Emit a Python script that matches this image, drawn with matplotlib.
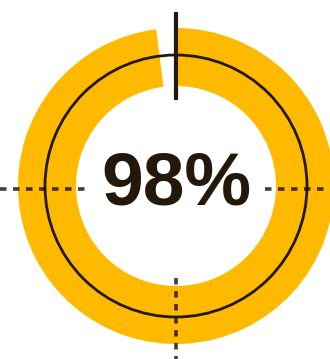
import matplotlib
matplotlib.use("Agg")
import matplotlib.pyplot as plt
from matplotlib.patches import Circle

# Progress value shown by the ring
progress = [98, 2]
label = "98%"

ring_color = "#FFBA00"
ink = "#24180A"

W, H = 330, 359
fig = plt.figure(figsize=(W / 100, H / 100), dpi=100)
ax = fig.add_axes([0, 0, 1, 1])

cx, cy = 176, 173
r_out, r_in = 158, 100

ax.pie(progress, colors=[ring_color, "none"], startangle=90, counterclock=False,
       center=(cx, cy), radius=r_out,
       wedgeprops=dict(width=r_out - r_in, linewidth=0))

# thin guide circle through the middle of the ring
ax.add_patch(Circle((cx, cy), 131, fill=False, edgecolor=ink, linewidth=2.0, zorder=3))

# solid marker at the start of the arc
ax.plot([cx, cx], [H - 12, H - 100], color=ink, linewidth=3.0, solid_capstyle="butt", zorder=4)

# dotted guides on left, right and bottom
dash = dict(color=ink, linewidth=2.6, linestyle=(0, (1.8, 1.8)), zorder=4, alpha=0.85)
ax.plot([0, 87], [H - 189, H - 189], **dash)
ax.plot([265, W], [H - 189, H - 189], **dash)
ax.plot([cx, cx], [H - 278, 0], **dash)

ax.text(cx, H - 185, label, ha="center", va="center", fontsize=54,
        fontweight="bold", family="Liberation Sans", color=ink)

ax.set_xlim(0, W)
ax.set_ylim(0, H)
ax.set_aspect("auto")
ax.axis("off")

fig.savefig("out.png", dpi=100)
